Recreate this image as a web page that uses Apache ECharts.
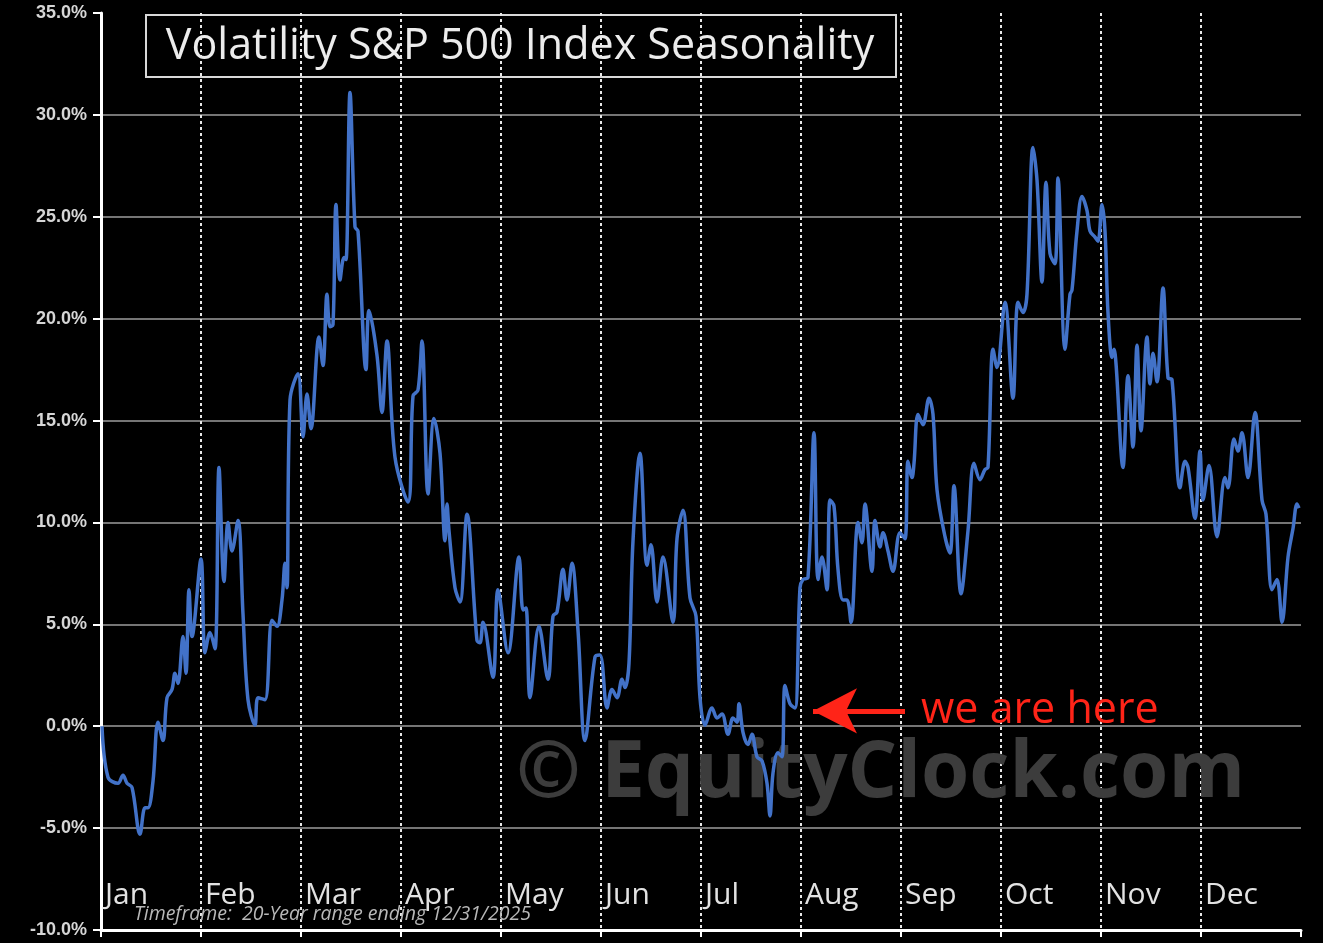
<!DOCTYPE html>
<html>
<head>
<meta charset="utf-8">
<title>Volatility S&amp;P 500 Index Seasonality</title>
<script src="https://cdn.jsdelivr.net/npm/echarts@6/dist/echarts.min.js"></script>
<style>
  html, body { margin: 0; padding: 0; background: #000; }
  #chart { width: 1323px; height: 943px; }
</style>
</head>
<body>
<div id="chart"></div>
<script>
// month labels on the bottom axis
var months = ['Jan', 'Feb', 'Mar', 'Apr', 'May', 'Jun', 'Jul', 'Aug', 'Sep', 'Oct', 'Nov', 'Dec'];

// position in the year, in months from Jan 1
var xPos = [
  0.01, 0.07, 0.17, 0.22, 0.26, 0.31, 0.39, 0.44, 0.47, 0.52, 0.57, 0.62, 0.66, 0.71, 0.74, 0.77, 0.82, 0.85, 0.88, 0.91,
  1.00, 1.04, 1.09, 1.14, 1.18, 1.23, 1.27, 1.31, 1.37, 1.42, 1.47, 1.54, 1.57, 1.64, 1.71, 1.76, 1.81, 1.84, 1.86, 1.89, 1.97,
  2.02, 2.06, 2.10, 2.18, 2.22, 2.26, 2.29, 2.32, 2.35, 2.39, 2.43, 2.45, 2.49, 2.54, 2.57, 2.65, 2.68, 2.76, 2.81, 2.86, 2.94,
  3.07, 3.12, 3.17, 3.21, 3.27, 3.33, 3.39, 3.44, 3.46, 3.48, 3.54, 3.59, 3.66, 3.76, 3.79, 3.82, 3.92, 3.97,
  4.07, 4.18, 4.22, 4.25, 4.29, 4.38, 4.47, 4.52, 4.56, 4.62, 4.66, 4.71, 4.77, 4.84, 4.94, 4.99,
  5.06, 5.11, 5.16, 5.21, 5.24, 5.28, 5.32, 5.39, 5.46, 5.50, 5.56, 5.62, 5.72, 5.76, 5.82, 5.89, 5.95, 5.99,
  6.04, 6.11, 6.16, 6.21, 6.27, 6.32, 6.36, 6.38, 6.42, 6.47, 6.51, 6.56, 6.61, 6.66, 6.69, 6.72, 6.77, 6.81, 6.84, 6.89, 6.94, 6.99,
  7.02, 7.07, 7.13, 7.17, 7.21, 7.26, 7.29, 7.33, 7.37, 7.42, 7.46, 7.50, 7.57, 7.61, 7.64, 7.71, 7.74, 7.79, 7.82, 7.87, 7.92, 7.99,
  8.04, 8.07, 8.11, 8.13, 8.17, 8.22, 8.28, 8.32, 8.36, 8.44, 8.49, 8.53, 8.60, 8.67, 8.73, 8.79, 8.84, 8.87, 8.92, 8.96,
  9.04, 9.12, 9.17, 9.22, 9.26, 9.32, 9.36, 9.41, 9.45, 9.49, 9.54, 9.57, 9.64, 9.69, 9.71, 9.76, 9.81, 9.86, 9.89, 9.94, 9.97,
  10.01, 10.04, 10.07, 10.11, 10.13, 10.15, 10.22, 10.27, 10.32, 10.36, 10.40, 10.46, 10.49, 10.52, 10.56, 10.62, 10.67, 10.71, 10.79, 10.84, 10.87, 10.94, 10.99,
  11.02, 11.08, 11.16, 11.24, 11.27, 11.33, 11.37, 11.41, 11.47, 11.54, 11.61, 11.65, 11.71, 11.76, 11.81, 11.87, 11.92, 11.96, 11.98
];

// seasonal change in the VIX, percent
var vol = [
  0.0, -2.5, -2.8, -2.4, -2.8, -3.0, -5.3, -4.0, -4.0, -2.7, 0.2, -0.7, 1.4, 1.8, 2.6, 2.1, 4.4, 2.6, 6.7, 4.4,
  8.2, 3.6, 4.6, 3.8, 12.7, 7.1, 10.0, 8.6, 10.1, 5.5, 1.3, 0.05, 1.4, 1.3, 5.2, 4.9, 6.2, 8.0, 6.8, 16.0, 17.3,
  14.2, 16.3, 14.6, 19.1, 17.7, 21.2, 19.6, 19.7, 25.6, 21.9, 23.0, 22.9, 31.1, 24.5, 24.3, 17.5, 20.4, 18.2, 15.4, 18.9, 13.2,
  11.0, 16.2, 16.5, 18.9, 11.4, 15.1, 13.4, 9.1, 10.9, 9.6, 6.8, 6.1, 10.4, 4.2, 4.1, 5.1, 2.4, 6.7,
  3.6, 8.3, 5.7, 5.8, 1.4, 4.9, 2.3, 5.4, 5.6, 7.7, 6.2, 8.0, 4.7, -0.7, 3.4, 3.5,
  0.9, 1.8, 1.4, 2.3, 1.9, 3.1, 9.1, 13.4, 7.9, 8.9, 6.1, 8.3, 5.1, 9.2, 10.6, 6.3, 5.4, 1.4,
  0.05, 0.9, 0.4, 0.6, -0.4, 0.4, 0.2, 1.1, -0.3, -0.9, -0.4, -1.5, -1.7, -2.8, -4.4, -2.3, -1.3, -1.5, 2.0, 1.1, 0.9, 6.8,
  7.2, 7.3, 14.4, 7.2, 8.3, 6.7, 11.1, 10.8, 7.7, 6.2, 6.2, 5.1, 10.0, 9.0, 10.9, 7.6, 10.1, 8.8, 9.5, 8.6, 7.6, 9.5,
  9.2, 13.0, 12.2, 12.9, 15.3, 14.8, 16.1, 15.3, 11.6, 9.3, 8.5, 11.8, 6.5, 9.6, 12.9, 12.1, 12.6, 12.7, 18.5, 17.6,
  20.8, 16.1, 20.8, 20.3, 21.2, 28.4, 26.8, 21.8, 26.7, 23.2, 22.7, 26.9, 18.5, 21.2, 21.4, 24.3, 26.0, 25.3, 24.3, 24.0, 23.8,
  25.6, 24.3, 20.3, 18.1, 18.5, 17.8, 12.7, 17.2, 13.7, 18.7, 14.5, 19.1, 16.8, 18.3, 16.9, 21.5, 17.1, 17.0, 11.7, 13.0, 12.7, 10.2, 13.5,
  11.1, 12.8, 9.3, 12.2, 11.7, 14.1, 13.5, 14.4, 12.2, 15.4, 11.1, 10.4, 6.7, 7.2, 5.1, 8.3, 9.7, 10.9, 10.7
];

// "we are here" arrow: tip and tail in data units
var hereTip = [7.12, 0.75];
var hereTail = [8.04, 0.75];

var seriesData = xPos.map(function (x, i) {
    return [x, vol[i]];
});

var myChart = echarts.init(document.getElementById('chart'));

var option = {
    backgroundColor: '#000',
    animation: false,
    grid: {left: 101, right: 22, top: 13, bottom: 13, containLabel: false},
    xAxis: [
        {
            type: 'value',
            min: 0,
            max: 12,
            interval: 1,
            axisLine: {show: false},
            axisTick: {show: false},
            axisLabel: {
                inside: true,
                margin: 20,
                align: 'left',
                color: '#e2e2e2',
                fontSize: 30,
                fontFamily: 'Open Sans',
                padding: [0, 0, 0, 4],
                formatter: function (v) {
                    return months[Math.round(v)] || '';
                }
            },
            splitLine: {
                show: true,
                showMinLine: false,
                showMaxLine: false,
                lineStyle: {color: '#e8e8e8', width: 2, type: [3, 3]}
            }
        },
        {
            // the white 0% line with its month ticks
            type: 'value',
            min: 0,
            max: 12,
            interval: 1,
            position: 'bottom',
            axisLine: {show: true, onZero: true, lineStyle: {color: '#fff', width: 3}},
            axisTick: {show: true, length: 7, lineStyle: {color: '#fff', width: 2}},
            axisLabel: {show: false},
            splitLine: {show: false}
        }
    ],
    yAxis: {
        type: 'value',
        min: -10,
        max: 35,
        interval: 5,
        axisLine: {show: true, lineStyle: {color: '#fff', width: 3}},
        axisTick: {show: true, length: 8, lineStyle: {color: '#fff', width: 2}},
        axisLabel: {
            margin: 14,
            color: '#d6d6d6',
            fontSize: 18,
            fontWeight: 'bold',
            fontFamily: 'Liberation Sans',
            formatter: function (v) {
                return v.toFixed(1) + '%';
            }
        },
        splitLine: {
            show: true,
            showMinLine: false,
            showMaxLine: false,
            lineStyle: {color: '#9c9c9c', width: 1.5}
        }
    },
    graphic: [
        {
            type: 'text',
            left: 516,
            top: 736,
            z: 1,
            style: {
                text: '\u00a9 EquityClock.com',
                fill: '#3c3c3c',
                font: 'bold 78px "Open Sans"'
            }
        },
        {
            type: 'group',
            left: 145,
            top: 14,
            z: 20,
            children: [
                {
                    type: 'rect',
                    shape: {x: 0, y: 0, width: 750, height: 62},
                    style: {fill: '#000', stroke: '#d8d8d8', lineWidth: 2}
                },
                {
                    type: 'text',
                    x: 374,
                    y: 32,
                    style: {
                        text: 'Volatility S&P 500 Index Seasonality',
                        fill: '#ececec',
                        font: '43px "Open Sans"',
                        align: 'center',
                        verticalAlign: 'middle'
                    }
                }
            ]
        },
        {
            type: 'text',
            left: 134,
            top: 904,
            z: 20,
            style: {
                text: 'Timeframe:  20-Year range ending 12/31/2025',
                fill: '#b8b8b8',
                font: 'italic 19.5px "Open Sans"'
            }
        }
    ],
    series: [{
        type: 'line',
        xAxisIndex: 0,
        data: seriesData,
        showSymbol: false,
        smooth: 0.35,
        z: 5,
        lineStyle: {color: '#4272c8', width: 3.5},
        markLine: {
            silent: true,
            z: 6,
            symbolSize: [34, 44],
            lineStyle: {color: '#ff2418', width: 5, type: 'solid'},
            label: {
                show: true,
                position: 'end',
                distance: 16,
                formatter: 'we are here',
                color: '#ff2418',
                fontSize: 43,
                fontFamily: 'Open Sans',
                padding: [14, 0, 0, 0]
            },
            data: [[
                {coord: hereTip, symbol: 'arrow'},
                {coord: hereTail, symbol: 'none'}
            ]]
        }
    }]
};

myChart.setOption(option);
</script>
</body>
</html>
